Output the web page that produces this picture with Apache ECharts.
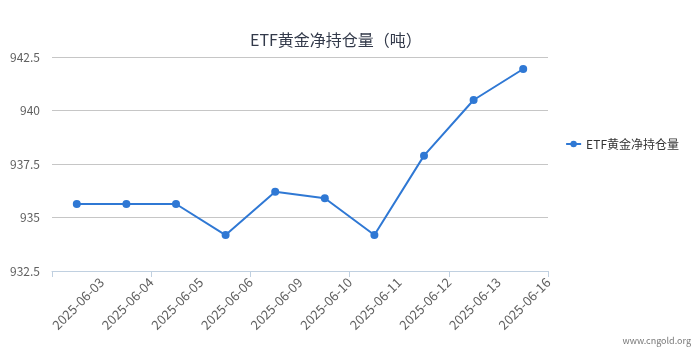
<!DOCTYPE html>
<html><head><meta charset="utf-8">
<script src="https://cdn.jsdelivr.net/npm/echarts@6/dist/echarts.min.js"></script>
<style>html,body{margin:0;padding:0;background:#fff}#c{width:700px;height:363px}</style>
</head><body><div id="c"></div>
<script>
const categories = ['2025-06-03','2025-06-04','2025-06-05','2025-06-06','2025-06-09','2025-06-10','2025-06-11','2025-06-12','2025-06-13','2025-06-16'];
const holdings = [935.63, 935.63, 935.63, 934.18, 936.2, 935.9, 934.18, 937.89, 940.49, 941.94];
const yTicks = [932.5, 935, 937.5, 940, 942.5];
const seriesName = 'ETF黄金净持仓量';
const titleText = 'ETF黄金净持仓量（吨）';
const watermark = 'www.cngold.org';

const font = '"Noto Sans CJK SC", "Noto Sans", sans-serif';
const chart = echarts.init(document.getElementById('c'));
chart.setOption({
  animation: false,
  textStyle: {fontFamily: font},
  title: {text: titleText, left: 245, top: 27, textStyle: {fontSize: 16, fontWeight: 'normal', color: '#333a4a', fontFamily: font}},
  legend: {orient: 'vertical', right: 16, top: 133, itemWidth: 15, itemHeight: 8, itemGap: 10, data: [seriesName],
    textStyle: {fontSize: 12, color: '#333', fontFamily: font}},
  grid: {left: 52, right: 152, top: 57, bottom: 92, containLabel: false},
  xAxis: [
    {type: 'category', data: categories, boundaryGap: true,
      axisLine: {lineStyle: {color: '#c0d0e0'}},
      axisTick: {show: true, length: 6, lineStyle: {color: '#c0d0e0'}},
      axisLabel: {show: false}, splitLine: {show: false}},
    {type: 'category', position: 'bottom', data: [''].concat(categories), boundaryGap: false,
      axisLine: {show: false}, axisTick: {show: false}, splitLine: {show: false},
      axisLabel: {show: true, interval: 0, rotate: 45, margin: 9, fontSize: 13, color: '#606060', fontFamily: font}}
  ],
  yAxis: {type: 'value', min: yTicks[0], max: yTicks[yTicks.length-1], interval: 2.5,
    axisLine: {show: false}, axisTick: {show: false},
    axisLabel: {fontSize: 12, color: '#606060', margin: 12, fontFamily: font},
    splitLine: {lineStyle: {color: '#c6c6c6', width: 1}}},
  series: [{name: seriesName, type: 'line', xAxisIndex: 0, data: holdings,
    symbol: 'circle', symbolSize: 8, lineStyle: {width: 2, color: '#2f78d4'},
    itemStyle: {color: '#2f78d4'}}],
  graphic: [{type: 'text', right: 9, bottom: 18, style: {text: watermark, fontSize: 9, fill: '#777', fontFamily: font}}]
});
</script></body></html>
